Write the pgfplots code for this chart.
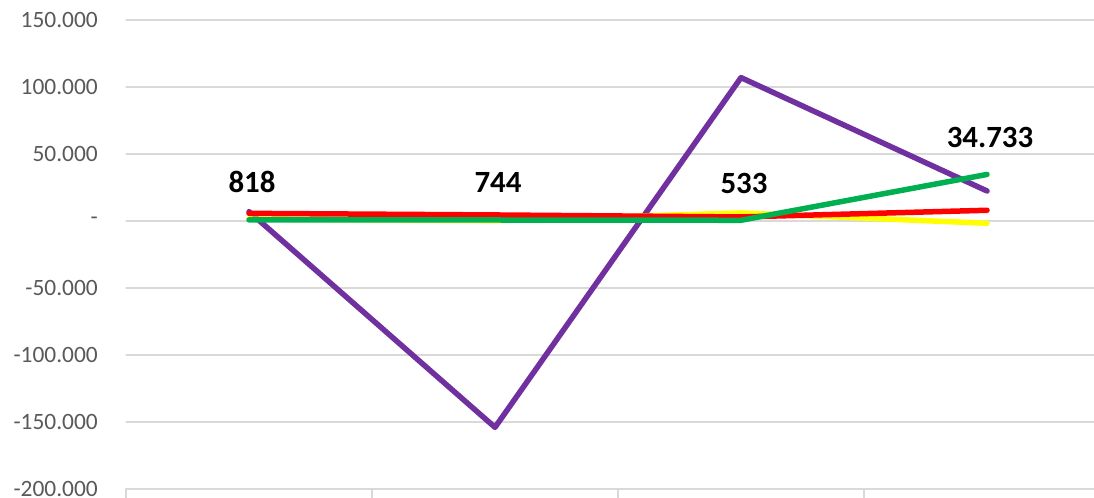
\documentclass[border=0pt]{standalone}
\usepackage{pgfplots}
\pgfplotsset{compat=1.18}
\usepackage{fontspec}
\setmainfont{Carlito}
\definecolor{cpurple}{HTML}{7030A0}
\definecolor{cyellow}{HTML}{FFFF00}
\definecolor{cred}{HTML}{FF0000}
\definecolor{cgreen}{HTML}{00B050}
\definecolor{cgrid}{HTML}{D9D9D9}
\definecolor{ctext}{HTML}{595959}
\begin{document}
\begin{tikzpicture}[x=1bp,y=1bp]
\useasboundingbox (0,0) rectangle (1094,498);
\begin{axis}[
  at={(126bp,9bp)}, anchor=south west,
  scale only axis, width=968bp, height=469bp,
  xmin=0.5, xmax=4.435,
  ymin=-200000, ymax=150000,
  scaled y ticks=false,
  axis x line*=bottom, axis y line*=left,
  y axis line style={draw=none},
  x axis line style={draw=cgrid, line width=1.2bp},
  tick align=outside,
  major tick length=9bp,
  xtick={0.5,1.5,2.5,3.5},
  xticklabels={},
  xtick style={draw=cgrid, line width=1.2bp},
  ytick={-200000,-150000,-100000,-50000,0,50000,100000,150000},
  yticklabels={-200.000,-150.000,-100.000,-50.000,-,50.000,100.000,150.000},
  ytick style={draw=none},
  yticklabel style={anchor=east, inner sep=0pt, xshift=-19bp, text=ctext, font=\fontsize{23.5}{24}\selectfont},
  ymajorgrids,
  grid style={draw=cgrid, line width=1.2bp},
  line cap=round, line join=round,
]
\addplot[cpurple, line width=5.5bp] coordinates {(1,7000) (2,-154000) (3,107000) (4,22400)};
\addplot[cyellow, line width=5.5bp] coordinates {(1,1500) (2,300) (3,6000) (4,-1700)};
\addplot[cred, line width=5.5bp] coordinates {(1,5700) (2,4500) (3,3000) (4,8000)};
\addplot[cgreen, line width=5.5bp,
  nodes near coords, point meta=explicit symbolic,
  nodes near coords style={anchor=base, inner sep=0pt, yshift=27bp, xshift=3bp, text=black, font=\bfseries\fontsize{31}{31}\selectfont}]
  coordinates {(1,818)[818] (2,744)[744] (3,533)[533] (4,34733)[34.733]};
\end{axis}
\end{tikzpicture}
\end{document}
